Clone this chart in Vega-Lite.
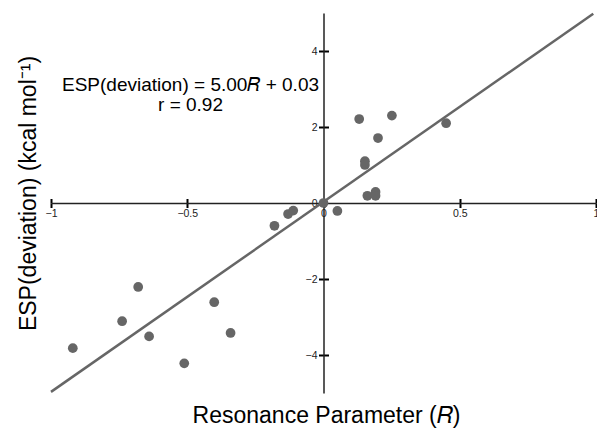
{
  "$schema": "https://vega.github.io/schema/vega-lite/v6.json",
  "width": 545,
  "height": 380,
  "autosize": {"type": "none"},
  "padding": {"left": 51, "top": 13, "right": 1, "bottom": 36},
  "background": "white",
  "config": {
    "view": {"stroke": null},
    "font": "Liberation Sans",
    "axis": {"grid": false}
  },
  "datasets": {
    "pts": [
      {"R": 0.131, "E": 2.21},
      {"R": 0.251, "E": 2.30},
      {"R": 0.450, "E": 2.10},
      {"R": 0.200, "E": 1.71},
      {"R": 0.152, "E": 1.10},
      {"R": 0.152, "E": 1.00},
      {"R": 0.161, "E": 0.19},
      {"R": 0.191, "E": 0.29},
      {"R": 0.191, "E": 0.19},
      {"R": 0.000, "E": 0.00},
      {"R": 0.051, "E": -0.21},
      {"R": -0.180, "E": -0.60},
      {"R": -0.130, "E": -0.29},
      {"R": -0.111, "E": -0.20},
      {"R": -0.680, "E": -2.21},
      {"R": -0.401, "E": -2.61},
      {"R": -0.739, "E": -3.11},
      {"R": -0.640, "E": -3.51},
      {"R": -0.341, "E": -3.42},
      {"R": -0.920, "E": -3.82},
      {"R": -0.511, "E": -4.22}
    ],
    "fit": [
      {"R": -1.0, "E": -4.97},
      {"R": 0.99, "E": 4.98}
    ],
    "notes": [
      {"R": -0.488, "E": 2.96, "label": "ESP(deviation) = 5.00𝑅 + 0.03"},
      {"R": -0.488, "E": 2.41, "label": "r = 0.92"}
    ]
  },
  "layer": [
    {
      "data": {"name": "fit"},
      "mark": {"type": "line", "color": "#666666", "strokeWidth": 2.5, "clip": false},
      "encoding": {
        "x": {
          "field": "R", "type": "quantitative",
          "scale": {"domain": [-1, 1], "nice": false, "zero": false},
          "axis": {
            "orient": "top", "offset": -190, "values": [-1, -0.5, 0, 0.5, 1],
            "labels": false, "domain": false, "ticks": true,
            "tickSize": 4.5, "tickWidth": 2, "tickColor": "#000000", "title": null
          }
        },
        "y": {
          "field": "E", "type": "quantitative",
          "scale": {"domain": [-5, 5], "nice": false, "zero": false},
          "axis": {
            "orient": "right", "offset": -272.5, "values": [-4, -2, 2, 4],
            "labels": false, "domain": false, "ticks": true,
            "tickSize": 5, "tickWidth": 2, "tickColor": "#000000", "title": null
          }
        }
      }
    },
    {
      "data": {"name": "pts"},
      "mark": {"type": "circle", "color": "#666666", "opacity": 1, "size": 95},
      "encoding": {
        "x": {
          "field": "R", "type": "quantitative",
          "axis": {
            "orient": "bottom", "offset": -190, "values": [-1, -0.5, 0, 0.5, 1],
            "format": "~g",
            "domain": true, "domainColor": "#222222", "domainWidth": 1.5,
            "tickSize": 4.5, "tickWidth": 2, "tickColor": "#000000",
            "labelFontSize": 10.5, "labelColor": "#222222", "labelPadding": 1,
            "labelFlush": false, "labelOverlap": false, "labelBound": false,
            "title": "Resonance Parameter (𝑅)", "titleFontSize": 23, "titleFontWeight": "normal",
            "titleColor": "#000000", "titleX": 275, "titleY": 219, "titleBaseline": "alphabetic",
            "titleAnchor": null, "titleAlign": "center"
          }
        },
        "y": {
          "field": "E", "type": "quantitative",
          "axis": {
            "orient": "left", "offset": -272.5, "values": [-4, -2, 0, 2, 4],
            "domain": true, "domainColor": "#222222", "domainWidth": 1.5,
            "tickSize": 5, "tickWidth": 2, "tickColor": "#000000",
            "labelFontSize": 10.5, "labelColor": "#222222", "labelPadding": 1.5,
            "labelOverlap": false, "labelBound": false, "labelFlush": false,
            "title": "ESP(deviation) (kcal mol⁻¹)", "titleFontSize": 23, "titleFontWeight": "normal",
            "titleColor": "#000000", "titleX": -288, "titleY": 180, "titleBaseline": "alphabetic",
            "titleAngle": -90, "titleAlign": "center"
          }
        }
      }
    },
    {
      "data": {"name": "notes"},
      "mark": {"type": "text", "fontSize": 19, "color": "#000000", "align": "center", "baseline": "alphabetic"},
      "encoding": {
        "x": {"field": "R", "type": "quantitative", "axis": null},
        "y": {"field": "E", "type": "quantitative", "axis": null},
        "text": {"field": "label"}
      }
    }
  ],
  "resolve": {"axis": {"x": "independent", "y": "independent"}}
}
